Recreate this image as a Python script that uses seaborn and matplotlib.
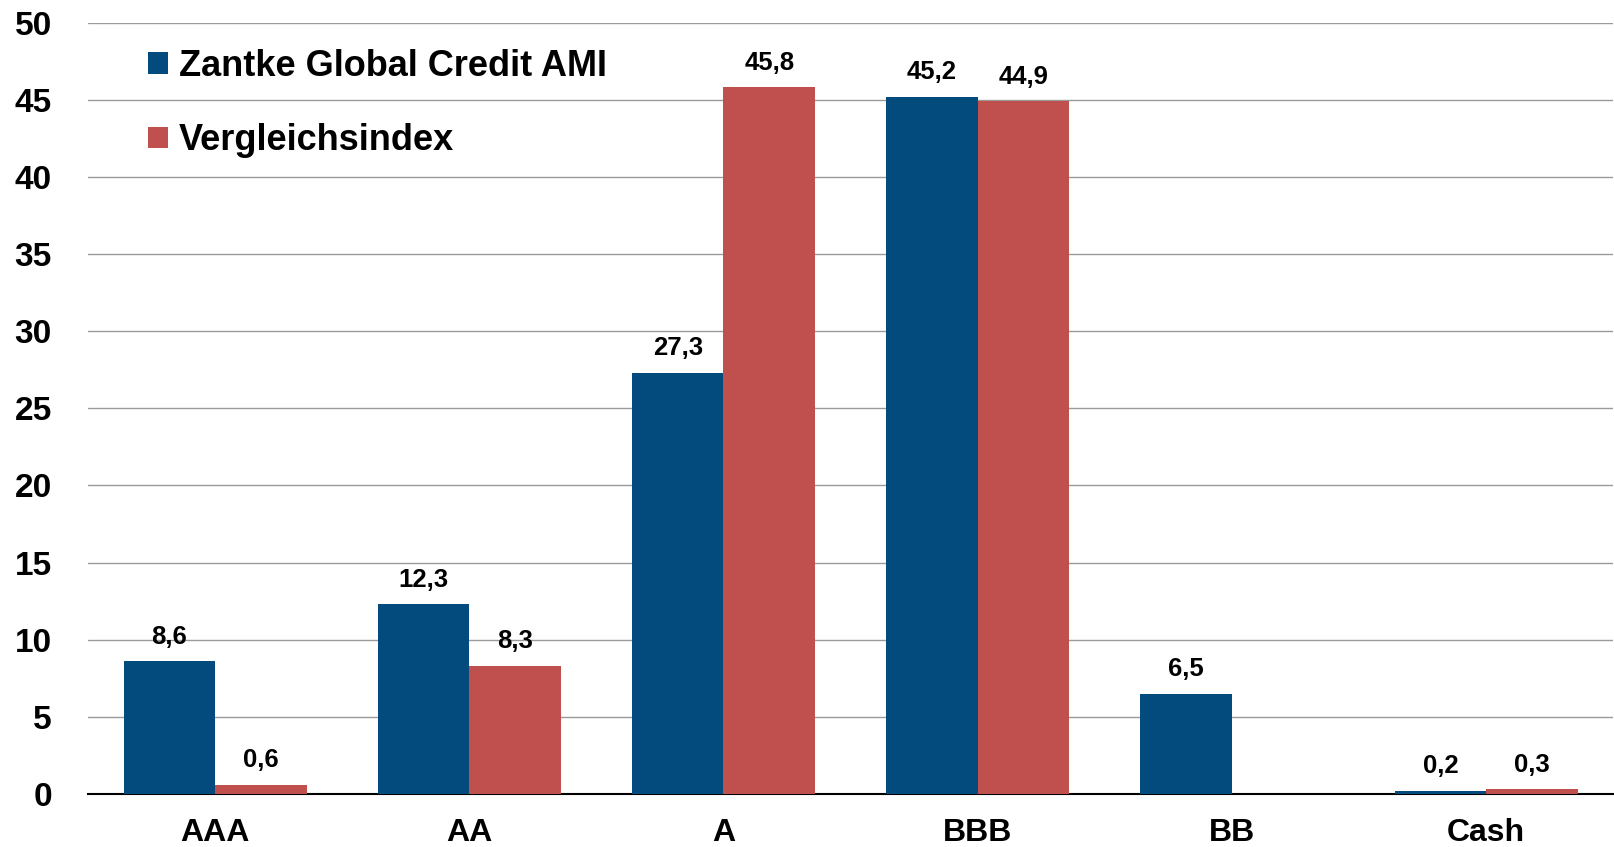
import pandas as pd
import matplotlib.pyplot as plt
import seaborn as sns

categories = ['AAA', 'AA', 'A', 'BBB', 'BB', 'Cash']
fund = [8.6, 12.3, 27.3, 45.2, 6.5, 0.2]
index = [0.6, 8.3, 45.8, 44.9, 0.0, 0.3]
series = ['Zantke Global Credit AMI', 'Vergleichsindex']
colors = ['#034B7C', '#C0504D']

df = pd.DataFrame({
    'cat': categories * 2,
    'value': fund + index,
    'series': [series[0]] * len(categories) + [series[1]] * len(categories),
})

sns.set_style('white')
plt.rcParams['font.family'] = ['Liberation Sans', 'DejaVu Sans']
plt.rcParams['font.weight'] = 'bold'
plt.rcParams['text.color'] = 'black'
plt.rcParams['xtick.color'] = 'black'
plt.rcParams['ytick.color'] = 'black'

fig = plt.figure(figsize=(16.14, 8.47), dpi=100)
ax = fig.add_axes([0.0545, 0.0626, 0.945, 0.9107])

sns.barplot(data=df, x='cat', y='value', hue='series', palette=colors,
            width=0.72, linewidth=0, saturation=1, ax=ax, zorder=3)

# value labels with German decimal comma, skip empty bars
for cont in ax.containers:
    labels = []
    for b in cont:
        h = b.get_height()
        labels.append('' if h == 0 else f'{h:.1f}'.replace('.', ','))
    ax.bar_label(cont, labels=labels, padding=9, fontsize=18.5,
                 fontweight='bold', color='black')

ax.set_ylim(0, 50)
ax.set_xlim(-0.5, 5.5)
ax.set_yticks(range(0, 51, 5))
ax.yaxis.grid(True, color='#9a9a9a', linewidth=1, zorder=0)
ax.set_axisbelow(True)
ax.set_xlabel('')
ax.set_ylabel('')
for s in ['top', 'right', 'left']:
    ax.spines[s].set_visible(False)
ax.spines['bottom'].set_color('black')
ax.spines['bottom'].set_linewidth(1.5)
ax.tick_params(axis='y', length=0, pad=26, labelsize=24)
ax.tick_params(axis='x', length=0, pad=17, labelsize=23)
for t in ax.get_xticklabels() + ax.get_yticklabels():
    t.set_fontweight('bold')

leg = ax.legend(loc='upper left', bbox_to_anchor=(0.03, 0.985), frameon=False,
                fontsize=26, handlelength=0.55, handleheight=0.55,
                handletextpad=0.3, labelspacing=1.1, borderaxespad=0)
for t in leg.get_texts():
    t.set_fontweight('bold')
    t.set_color('black')

fig.savefig('out.png', dpi=100)
